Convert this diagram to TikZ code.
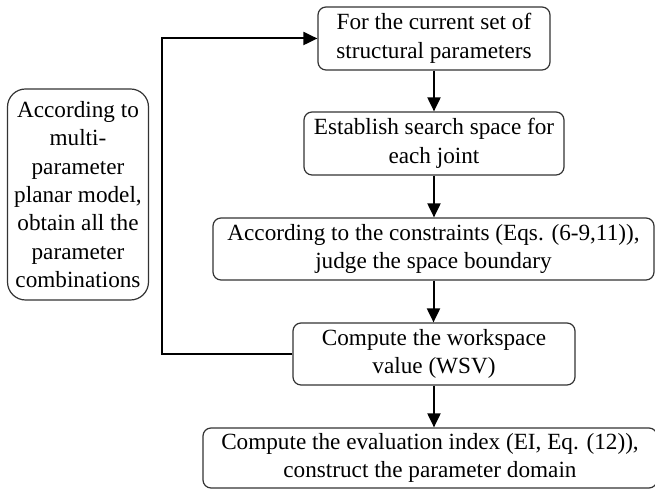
\documentclass[tikz,border=0pt]{standalone}
\usepackage{fontspec}
\setmainfont{Liberation Serif}
\usepackage{tikz}
\usetikzlibrary{arrows.meta}
\def\flowx{434}

\begin{document}
\begin{tikzpicture}[x=0.5pt,y=-0.5pt,line width=0.6pt,>={Triangle[length=7pt,width=6.5pt]}]
	\tikzstyle{step box}=[draw=black!80,rounded corners=4pt,align=center,font=\fontsize{11.6}{14.2}\selectfont,inner sep=0pt]
	\tikzstyle{side box}=[step box,rounded corners=9pt]
	\tikzstyle{flow}=[->,line width=1pt]

	\useasboundingbox (0,0) rectangle (655,490);

	% Draw the main steps
	\node[step box,minimum width=116pt,minimum height=31.5pt] (S-1) at (\flowx,38.5)
	{For the current set of\\structural parameters};
	\node[step box,minimum width=130pt,minimum height=31.5pt] (S-2) at (\flowx,143.5)
	{Establish search space for\\each joint};
	\node[step box,minimum width=220.5pt,minimum height=31pt] (S-3) at (433.5,249)
	{According to the constraints (Eqs. (6-9,11)),\\judge the space boundary};
	\node[step box,minimum width=141pt,minimum height=31pt] (S-4) at (\flowx,354)
	{Compute the workspace\\value (WSV)};
	\node[step box,minimum width=227pt,minimum height=30pt] (S-5) at (430,458)
	{Compute the evaluation index (EI, Eq. (12)),\\construct the parameter domain};

	% Draw the side note
	\node[side box,minimum width=70.5pt,minimum height=105.5pt] (note) at (78,194.5)
	{According to\\multi-\\parameter\\planar model,\\obtain all the\\parameter\\combinations};

	% Connect the steps
	\foreach \source/\dest in {1/2,2/3,3/4,4/5}
	\draw[flow] (S-\source.south) -- (S-\source.south |- S-\dest.north);

	% Loop back
	\coordinate (back) at (162,0);
	\draw[flow] (S-4.west) -| (back |- S-1.west) -- (S-1.west);
\end{tikzpicture}
\end{document}
